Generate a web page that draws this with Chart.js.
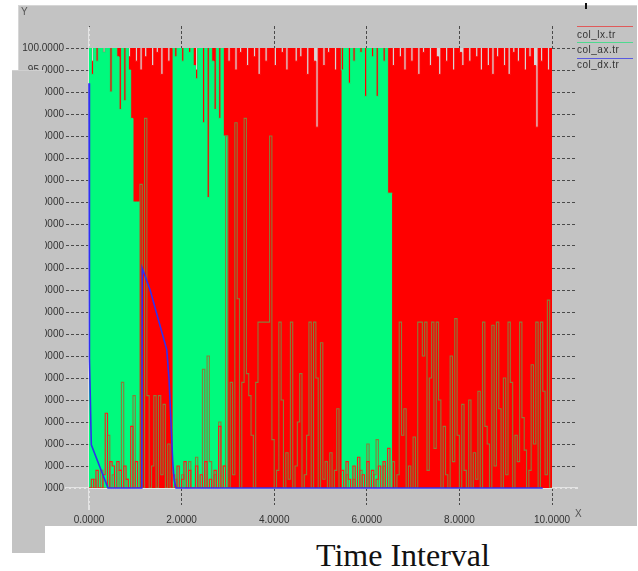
<!DOCTYPE html>
<html>
<head>
<meta charset="utf-8">
<script src="https://cdn.jsdelivr.net/npm/chart.js@4.4.1/dist/chart.umd.min.js"></script>
<style>
  body { margin: 0; width: 638px; height: 571px; position: relative; overflow: hidden; background: #fff;
         font-family: "Liberation Sans", Arial, sans-serif; }
  .panel { position: absolute; left: 18px; top: 5px; width: 619px; height: 521px; background: #c3c3c3;
           border-left: 1px solid #d6d6d6; border-top: 1px solid #d6d6d6; box-sizing: border-box; }
  .side { position: absolute; left: 12px; top: 70px; width: 33px; height: 483px; background: #c3c3c3; z-index: 2;
          border-top: 1px solid #d0d0d0; box-sizing: border-box; }
  #plot { position: absolute; left: 0; top: 0; z-index: 1; }
  .axname { position: absolute; font-size: 10px; color: #555; z-index: 3; }
  .key { position: absolute; left: 577px; font-size: 10px; letter-spacing: 0.5px; color: #333; z-index: 3; }
  .keyline { position: absolute; left: 577px; width: 56px; height: 1px; z-index: 3; }
  .mark { position: absolute; left: 585px; top: 3px; width: 2px; height: 6px; background: #111; z-index: 3; }
  .caption { position: absolute; left: 253px; top: 539px; width: 300px; text-align: center;
             font-family: "Liberation Serif", "Times New Roman", serif; font-size: 32px; line-height: 32px; color: #111; }
</style>
</head>
<body>
<div class="panel"></div>
<canvas id="plot" width="638" height="571"></canvas>
<div class="side"></div>
<div class="axname" style="left:21px; top:6px;">Y</div>
<div class="axname" style="left:575px; top:508px;">X</div>
<div class="mark"></div>
<div class="keyline" style="top:26px; background:#e05a5a;"></div>
<div class="key" style="top:29px;">col_lx.tr</div>
<div class="keyline" style="top:42px; background:#4fd98f;"></div>
<div class="key" style="top:44px;">col_ax.tr</div>
<div class="keyline" style="top:58px; background:#5a5ae0;"></div>
<div class="key" style="top:59px;">col_dx.tr</div>
<div class="caption">Time Interval</div>

<script>
// samples are taken every 0.05 time units, 0 .. 10 (201 samples)
const timeStep = 0.05;

// col_lx.tr upper envelope (red band, notches at the top)
const lxUpper = [
  100,100,97,100,100,100,100,99,100,100,   100,100,96,100,100,100,100,100,98,100,
  100,97,100,95,100,98,100,100,96,100,     99,100,94,100,100,97,100,100,100,100,
  100,100,100,100,100,100,100,95,100,100,  100,100,100,100,100,100,100,100,100,100,
  100,97,100,100,95,100,99,100,100,96,     100,100,98,100,94,100,100,97,100,100,
  100,96,100,100,99,100,95,100,100,100,    97,100,98,100,100,94,100,100,97,82,
  100,100,96,100,99,100,100,95,100,100,    100,100,100,100,100,100,100,100,100,100,
  100,100,100,100,100,100,100,100,100,100, 100,100,96,100,100,98,100,95,100,100,
  97,100,100,94,100,99,100,100,96,100,     100,98,94,100,100,97,100,100,95,100,
  100,99,96,100,100,97,100,100,98,100,     95,100,100,96,100,94,100,98,100,100,
  96,100,94,100,99,100,97,100,100,95,      100,98,100,96,82,100,97,100,100,95,
  100
];

// col_ax.tr upper envelope where the green band covers the plot
const axUpper = [
  93,100,94,100,97,100,100,99,100,100,     90,100,100,98,86,100,88,100,95,84,
  65,65,65,null,null,null,null,null,null,null, null,null,null,null,null,null,100,100,98,100,
  100,97,100,100,99,100,96,93,100,100,     83,100,66,100,97,86,100,84,100,80,
  80,null,null,null,null,null,null,null,null,null, null,null,null,null,null,null,null,null,null,null,
  null,null,null,null,null,null,null,null,null,null, null,null,null,null,null,null,null,null,null,null,
  null,null,null,null,null,null,null,null,null,100, 95,100,100,92,100,97,100,100,99,100,
  89,100,100,98,100,89,100,100,97,100,     67,67,null,null,null,null,null,null,null,null,
  null,null,null,null,null,null,null,null,null,null, null,null,null,null,null,null,null,null,null,null,
  null,null,null,null,null,null,null,null,null,null, null,null,null,null,null,null,null,null,null,null,
  null,null,null,null,null,null,null,null,null,null, null,null,null,null,null,null,null,null,null,null,
  null
];

// col_ax.tr low trace (spikes across the red stretches)
const axTrace = [
  0,0,0,2,0,0,4,0,0,12,                    0,3,0,0,4,24,0,2,0,0,
  21,0,0,69,0,84,21,0,5,21,                0,21,3,19,0,10,0,0,2,0,
  0,3,0,0,6,0,0,7,0,0,                     27,0,30,6,0,3,0,15,0,5,
  80,0,24,3,83,43,0,24,84,26,              21,12,0,24,37.7,37.7,37.7,37.7,37.7,80,
  11,0,4,37.7,20,0,8,2,37.7,0,             5,15,26,0,3,12,37.7,0,37.7,25,
  0,33,2,6,0,8,0,4,18,0,                   0,0,3,0,0,2,0,0,4,0,
  0,10,0,0,3,11,0,0,5,0,                   0,0,6,0,3,37.7,12,18,0,5,
  0,11.6,0,37.7,37.7,30,37.7,4,25,37.7,    9,37.7,20,0,14,3,0,30,6,38.5,
  12,0,19,4,0,20,0,8,2,22,                 0,37.7,14,10,0,37,5,37.7,18,0,
  25,3,37.7,24,0,12,6,37.7,16,8.6,         0,4,28,10,37.7,0,37.7,22,3,42.7,
  0
];

// col_lx.tr low trace inside the green stretches
const lxTrace = [
  0,0,2,0,4,0,0,3,17,0,                    6,5,0,6,4,0,5,2,0,14,
  0,6,0,null,null,null,null,null,null,null, null,null,null,null,null,null,0,3,0,5,
  0,2,6,0,4,0,0,5,0,3,                     0,6,0,2,0,4,0,14,0,5,
  0,null,null,null,null,null,null,null,null,null, null,null,null,null,null,null,null,null,null,null,
  null,null,null,null,null,null,null,null,null,null, null,null,null,null,null,null,null,null,null,null,
  null,null,null,null,null,null,null,null,null,0, 4,0,6,2,0,5,0,7,0,3,
  0,6,0,4,0,2,5,0,6,0,                     9,0,null,null,null,null,null,null,null,null,
  null,null,null,null,null,null,null,null,null,null, null,null,null,null,null,null,null,null,null,null,
  null,null,null,null,null,null,null,null,null,null, null,null,null,null,null,null,null,null,null,null,
  null,null,null,null,null,null,null,null,null,null, null,null,null,null,null,null,null,null,null,null,
  null
];

// col_dx.tr
const dxTimes  = [0, 0, 0.02, 0.05, 0.41, 1.14, 1.15, 1.32, 1.68, 1.73, 1.81, 1.84, 1.88, 9.8];
const dxValues = [92, 40.5, 29.5, 9.8, 0, 0, 50, 45, 31.4, 24.5, 5.7, 1.8, 0, 0];

function toPoints(values) {
  return values.map((v, i) => ({ x: Math.round(i * timeStep * 100) / 100, y: v }));
}

// light axis lines through the origin and a pale plot background
const axisLines = {
  id: 'axisLines',
  beforeDatasetsDraw(chart) {
    const { ctx, chartArea: a } = chart;
    ctx.save();
    ctx.fillStyle = '#d9d3d3';
    ctx.fillRect(a.left, a.top, a.right - a.left, a.bottom - a.top);
    ctx.strokeStyle = '#eeeeee';
    ctx.lineWidth = 1.5;
    ctx.beginPath();
    ctx.moveTo(a.left - 24, a.bottom);
    ctx.lineTo(a.right + 26, a.bottom);
    ctx.moveTo(a.left, a.top - 21);
    ctx.lineTo(a.left, a.bottom + 22);
    ctx.stroke();
    ctx.restore();
  }
};

const tickFont = { family: 'Liberation Sans', size: 10 };
const dashed = (len) => ({
  drawOnChartArea: false, drawTicks: true, tickLength: len,
  tickColor: '#4a4a4a', tickWidth: 1, tickBorderDash: [3, 2]
});

new Chart(document.getElementById('plot'), {
  type: 'line',
  data: {
    datasets: [
      { label: 'col_dx.tr', data: dxTimes.map((t, i) => ({ x: t, y: dxValues[i] })),
        borderColor: '#3030ee', borderWidth: 1.6, pointRadius: 0, fill: false, order: 0, clip: 4 },
      { label: 'col_lx.tr low', data: toPoints(lxTrace), borderColor: '#ff1a1a', borderWidth: 1.1,
        stepped: 'after', pointRadius: 0, fill: false, order: 1 },
      { label: 'col_ax.tr low', data: toPoints(axTrace), borderColor: '#8a7c3a', borderWidth: 1.1,
        stepped: 'after', pointRadius: 0, fill: false, order: 2 },
      { label: 'col_ax.tr', data: toPoints(axUpper), borderColor: '#00fa7d', backgroundColor: '#00fa7d',
        borderWidth: 1, stepped: 'after', pointRadius: 0, fill: 'origin', order: 3 },
      { label: 'col_lx.tr', data: toPoints(lxUpper), borderColor: '#ff0000', backgroundColor: '#ff0000',
        borderWidth: 1, stepped: 'after', pointRadius: 0, fill: 'origin', order: 4 }
    ]
  },
  options: {
    responsive: false,
    animation: false,
    layout: { padding: 0 },
    plugins: { legend: { display: false }, tooltip: { enabled: false }, title: { display: false } },
    scales: {
      x: {
        type: 'linear', position: 'bottom', min: 0, max: 10,
        grid: dashed(17), border: { display: false },
        ticks: { stepSize: 2, padding: 9, color: '#333', font: tickFont, maxRotation: 0,
                 callback: (v) => v.toFixed(4) },
        afterFit: (s) => { s.height = 83; }
      },
      x2: {
        axis: 'x', type: 'linear', position: 'top', min: 0, max: 10,
        grid: dashed(22), border: { display: false },
        ticks: { stepSize: 2, display: false },
        afterFit: (s) => { s.height = 48; }
      },
      y: {
        type: 'linear', position: 'left', min: 0, max: 100,
        grid: dashed(23), border: { display: false },
        ticks: { stepSize: 5, padding: 2, color: '#333', font: tickFont, autoSkip: false,
                 callback: (v) => v.toFixed(4) },
        afterFit: (s) => { s.width = 89; }
      },
      y2: {
        axis: 'y', type: 'linear', position: 'right', min: 0, max: 100,
        grid: dashed(25), border: { display: false },
        ticks: { stepSize: 5, display: false },
        afterFit: (s) => { s.width = 86; }
      }
    }
  },
  plugins: [axisLines]
});
</script>
</body>
</html>
